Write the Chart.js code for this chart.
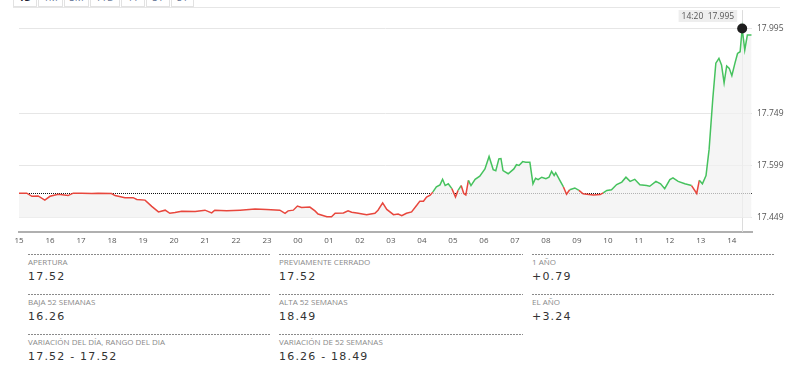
<!DOCTYPE html>
<html>
<head>
<meta charset="utf-8">
<script src="https://cdn.jsdelivr.net/npm/chart.js@4"></script>
<style>
  body { margin: 0; background: #fff; font-family: "Open Sans", sans-serif; }
  #wrap { position: relative; width: 800px; height: 374px; overflow: hidden; }
  #tabs { position: absolute; left: 13px; top: -10px; height: 17px; display: flex; }
  #tabs span { display: block; box-sizing: border-box; height: 17px; border: 1px solid #e2e2e2; border-top: none;
    margin-right: 1px; font-size: 10px; line-height: 14px; text-align: center; color: #6a7a9a; background: #fff; }
  #tabs span.on { color: #223; font-weight: bold; }
  #topline { position: absolute; left: 13px; top: 7px; width: 767px; height: 1px; background: #e6e6e6; }
  #chartBox { position: absolute; left: 0; top: 0; width: 800px; height: 250px; }
  .cell { position: absolute; height: 40px;
    background: repeating-linear-gradient(to right, #8a8a8a 0 2px, transparent 2px 3px) top left / 100% 1px no-repeat; }
  .cell .lbl { position: absolute; left: 0; top: 3px; font-size: 8px; line-height: 10px; color: #8a8a8a; white-space: nowrap; }
  .cell .val { position: absolute; left: 0; top: 16px; font-family: "DejaVu Sans", sans-serif; font-size: 11px; line-height: 14px;
    letter-spacing: 1.2px; color: #333; white-space: nowrap; }
</style>
</head>
<body>
<div id="wrap">
  <div id="tabs"></div>
  <div id="topline"></div>
  <div id="chartBox"><canvas id="priceChart"></canvas></div>
  <div id="stats"></div>
</div>
<script>
// minutos desde las 15:00 y precio
const times = [0, 15, 25, 37, 50, 60, 76, 95, 105, 121, 141, 153, 179, 186, 205, 221, 228, 244, 257, 270,
  283, 292, 302, 315, 341, 360, 373, 379, 402, 428, 457, 479, 505, 515, 521, 531, 539, 547, 563, 573,
  579, 596, 605, 612, 628, 637, 644, 654, 673, 689, 695, 704, 712, 725, 734, 741, 750, 760, 770, 776,
  783, 789, 796, 801, 808, 815, 820, 825, 831, 838, 845, 850, 856, 861, 865, 870, 875, 883, 892, 902,
  910, 918, 923, 929, 933, 937, 947, 958, 963, 968, 975, 981, 989, 995, 1000, 1005, 1012, 1020, 1026, 1031,
  1036, 1039, 1047, 1054, 1060, 1066, 1076, 1084, 1092, 1099, 1112, 1125, 1131, 1138, 1147, 1157, 1167, 1175, 1183, 1192,
  1202, 1215, 1221, 1233, 1242, 1250, 1260, 1266, 1276, 1289, 1302, 1312, 1317, 1323, 1330, 1336, 1343, 1349, 1355, 1360,
  1365, 1370, 1375, 1380, 1386, 1391, 1396, 1400, 1405, 1410, 1418];
const prices = [17.520, 17.520, 17.511, 17.512, 17.500, 17.511, 17.517, 17.513, 17.520, 17.520, 17.519, 17.520, 17.519, 17.513, 17.507, 17.507, 17.502, 17.500, 17.482, 17.466,
  17.471, 17.462, 17.464, 17.468, 17.467, 17.471, 17.463, 17.471, 17.469, 17.471, 17.474, 17.473, 17.471, 17.462, 17.469, 17.471, 17.483, 17.479, 17.480, 17.469,
  17.460, 17.452, 17.452, 17.462, 17.463, 17.469, 17.465, 17.463, 17.458, 17.462, 17.471, 17.492, 17.473, 17.458, 17.460, 17.455, 17.462, 17.466, 17.485, 17.497,
  17.497, 17.509, 17.514, 17.523, 17.538, 17.544, 17.560, 17.542, 17.547, 17.533, 17.509, 17.528, 17.542, 17.519, 17.515, 17.557, 17.542, 17.560, 17.569, 17.590,
  17.626, 17.588, 17.585, 17.619, 17.620, 17.585, 17.576, 17.590, 17.602, 17.600, 17.611, 17.609, 17.609, 17.547, 17.563, 17.559, 17.566, 17.562, 17.566, 17.583,
  17.571, 17.579, 17.557, 17.538, 17.517, 17.530, 17.535, 17.528, 17.518, 17.517, 17.515, 17.516, 17.521, 17.528, 17.530, 17.545, 17.552, 17.566, 17.554, 17.560,
  17.544, 17.542, 17.540, 17.554, 17.547, 17.533, 17.559, 17.564, 17.554, 17.547, 17.542, 17.519, 17.557, 17.547, 17.571, 17.647, 17.790, 17.895, 17.909, 17.890,
  17.838, 17.887, 17.880, 17.859, 17.895, 17.923, 17.928, 17.995, 17.933, 17.976, 17.976];

const hourLabels = ["15", "16", "17", "18", "19", "20", "21", "22", "23", "00", "01", "02",
  "03", "04", "05", "06", "07", "08", "09", "10", "11", "12", "13", "14"];
const yTicks = [17.449, 17.599, 17.749, 17.995];
const prevClose = 17.52;
const markTime = 1400; // 14:20

const tabNames = ["1D", "1M", "3M", "YTD", "1Y", "3Y", "5Y"];
const tabWidths = [24, 25, 25, 30, 24, 24, 23];

const statLabels = [
  ["APERTURA", "BAJA 52 SEMANAS", "VARIACIÓN DEL DÍA, RANGO DEL DIA"],
  ["PREVIAMENTE CERRADO", "ALTA 52 SEMANAS", "VARIACIÓN DE 52 SEMANAS"],
  ["1 AÑO", "EL AÑO"]
];
const statValues = [
  ["17.52", "16.26", "17.52 - 17.52"],
  ["17.52", "18.49", "16.26 - 18.49"],
  ["+0.79", "+3.24"]
];

// pestañas de arriba
const tabs = document.getElementById("tabs");
tabNames.forEach((t, i) => {
  const s = document.createElement("span");
  s.textContent = t;
  s.style.width = tabWidths[i] + "px";
  if (i === 0) s.className = "on";
  tabs.appendChild(s);
});

// bloque de datos
const colLeft = [28, 279, 532];
const colWidth = [242, 244, 243];
const stats = document.getElementById("stats");
statLabels.forEach((col, c) => {
  col.forEach((lbl, r) => {
    const cell = document.createElement("div");
    cell.className = "cell";
    cell.style.left = colLeft[c] + "px";
    cell.style.top = (254 + r * 40) + "px";
    cell.style.width = colWidth[c] + "px";
    cell.innerHTML = '<div class="lbl">' + lbl + '</div><div class="val">' + statValues[c][r] + '</div>';
    stats.appendChild(cell);
  });
});

const GREEN = "#46c25e";
const RED = "#e8473d";
const markIdx = times.indexOf(markTime);
const points = times.map((t, i) => ({ x: t, y: prices[i] }));

function clock(min) {
  const m = (15 * 60 + min) % 1440;
  return String(Math.floor(m / 60)).padStart(2, "0") + ":" + String(m % 60).padStart(2, "0");
}

const overlay = {
  id: "overlay",
  beforeDatasetsDraw(chart) {
    const ctx = chart.ctx;
    const area = chart.chartArea;
    ctx.save();
    // cierre anterior, punteado
    const yb = Math.round(chart.scales.y.getPixelForValue(prevClose));
    ctx.fillStyle = "#111";
    for (let x = Math.round(area.left); x < area.right; x += 2) ctx.fillRect(x, yb, 1, 1);
    // linea vertical del cursor
    const px = Math.round(chart.scales.x.getPixelForValue(markTime)) + 0.5;
    ctx.strokeStyle = "#dcdcdc";
    ctx.lineWidth = 1;
    ctx.beginPath();
    ctx.moveTo(px, area.top);
    ctx.lineTo(px, area.bottom);
    ctx.stroke();
    ctx.restore();
  },
  afterDraw(chart) {
    const ctx = chart.ctx;
    const px = chart.scales.x.getPixelForValue(markTime);
    const txt = clock(markTime) + "  " + prices[markIdx].toFixed(3);
    ctx.save();
    ctx.font = "8.5px 'Open Sans'";
    const w = ctx.measureText(txt).width + 6;
    const right = px - 5;
    ctx.fillStyle = "#eeeeee";
    ctx.fillRect(right - w, 10, w, 12);
    ctx.fillStyle = "#555";
    ctx.textBaseline = "middle";
    ctx.fillText(txt, right - w + 3, 16.5);
    ctx.restore();
  }
};

new Chart(document.getElementById("priceChart"), {
  type: "line",
  data: {
    datasets: [
      {
        // relleno bajo la curva
        data: points,
        borderWidth: 0,
        borderColor: "rgba(0,0,0,0)",
        backgroundColor: "rgba(241,241,241,0.72)",
        fill: { value: 17.449 },
        pointRadius: 0,
        order: 2,
      },
      {
        data: points,
        borderWidth: 1.5,
        borderColor: GREEN,
        segment: {
          borderColor: (c) => Math.min(c.p0.parsed.y, c.p1.parsed.y) > prevClose ? GREEN : RED,
        },
        fill: false,
        tension: 0,
        pointRadius: (c) => c.dataIndex === markIdx ? 5 : 0,
        pointBackgroundColor: "#1e1e1e",
        pointBorderWidth: 0,
        pointHoverRadius: 0,
        order: 1,
      },
    ],
  },
  options: {
    responsive: true,
    maintainAspectRatio: false,
    animation: false,
    events: [],
    layout: { padding: { left: 19, top: 8, right: 0, bottom: 0 } },
    plugins: { legend: { display: false }, tooltip: { enabled: false } },
    scales: {
      x: {
        type: "linear",
        min: 0,
        max: 1419,
        afterBuildTicks: (s) => { s.ticks = hourLabels.map((_, i) => ({ value: i * 60 })); },
        afterFit: (s) => { s.height = 18; },
        grid: { display: false, drawTicks: false },
        border: { display: true, color: "#b0b0b0", width: 2 },
        ticks: {
          padding: 4,
          maxRotation: 0,
          autoSkip: false,
          color: "#555",
          font: { family: "Open Sans", size: 8 },
          callback: (v) => hourLabels[Math.round(v / 60)],
        },
      },
      y: {
        position: "right",
        min: 17.408,
        max: 18.048,
        afterBuildTicks: (s) => { s.ticks = yTicks.map((v) => ({ value: v })); },
        afterFit: (s) => { s.width = 48; },
        grid: { color: "#e6e6e6", drawTicks: false },
        border: { display: false },
        ticks: {
          padding: 5,
          color: "#555",
          font: { family: "Open Sans", size: 8.5 },
          callback: (v) => Number(v).toFixed(3),
        },
      },
    },
  },
  plugins: [overlay],
});
</script>
</body>
</html>
